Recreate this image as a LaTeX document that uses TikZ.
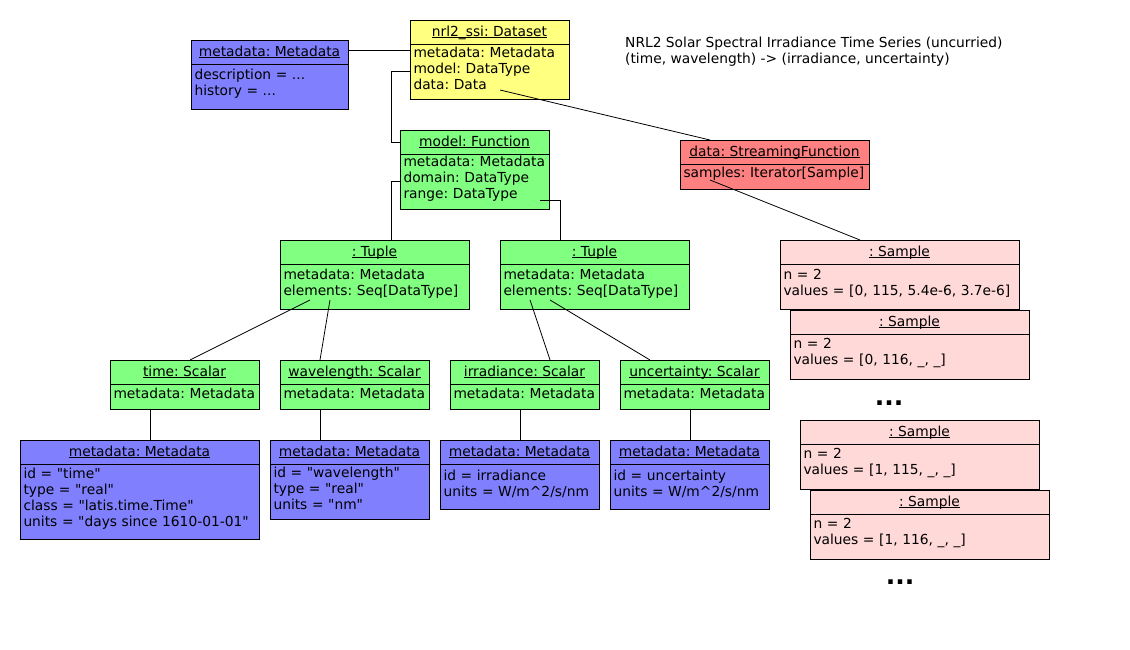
\documentclass[tikz,border=0pt]{standalone}
\usepackage{fontspec}
\setmainfont{DejaVu Sans}[Ligatures=TeXOff]
\usetikzlibrary{positioning}

\definecolor{dsyellow}{RGB}{255,255,128}
\definecolor{mdblue}{RGB}{128,128,255}
\definecolor{fngreen}{RGB}{128,255,128}
\definecolor{sfred}{RGB}{255,128,128}
\definecolor{smpink}{RGB}{255,216,216}

% underlined object name, descenders not pushing the rule down
\newcommand{\objname}[1]{\underline{\raisebox{0pt}[\height][0pt]{#1}}}
\hyphenpenalty=10000
\exhyphenpenalty=10000
\frenchspacing

\begin{document}
\begin{tikzpicture}[x=1pt, y=-1pt,
  every node/.style={font=\fontsize{13.8}{16}\selectfont},
  head/.style={rectangle, draw, line width=0.9pt, anchor=north west, minimum height=24pt, inner sep=0pt, outer sep=0pt},
  body/.style={rectangle, draw, line width=0.9pt, anchor=north west, align=left, inner xsep=3.5pt, inner ysep=0pt, outer sep=0pt,
    execute at end node={\endgraf\vspace{6pt}}},
  link/.style={line width=0.8pt},
  more/.style={font=\fontsize{25}{25}\selectfont\bfseries, inner sep=0pt},
  caption/.style={anchor=west, align=left, inner sep=0pt},
]
\useasboundingbox (0,0) rectangle (1130,650);

% === DATASET ===
\node[head, fill=mdblue, minimum width=157pt] (meta0h) at (191,40) {\objname{metadata: Metadata}};
\node[body, fill=mdblue, text width=150pt, minimum height=45pt] (meta0) at (meta0h.south west) {description = ...\\history = ...};

\node[head, fill=dsyellow, minimum width=159pt] (dsh) at (410,20) {\objname{nrl2\_ssi: Dataset}};
\node[body, fill=dsyellow, text width=152pt, minimum height=55pt] (ds) at (dsh.south west) {metadata: Metadata\\model: DataType\\data: Data};

\node[caption] (title) at (625,51.5) {NRL2 Solar Spectral Irradiance Time Series (uncurried)\\(time, wavelength) -> (irradiance, uncertainty)};

% === MODEL ===
\node[head, fill=fngreen, minimum width=149pt] (fnh) at (400,130) {\objname{model: Function}};
\node[body, fill=fngreen, text width=142pt, minimum height=55pt] (fn) at (fnh.south west) {metadata: Metadata\\domain: DataType\\range: DataType};

\node[head, fill=fngreen, minimum width=189pt] (tp1h) at (280,240) {\objname{: Tuple}};
\node[body, fill=fngreen, text width=182pt, minimum height=45pt] (tp1) at (tp1h.south west) {metadata: Metadata\\elements: Seq[DataType]};
\node[head, fill=fngreen, minimum width=189pt] (tp2h) at (500,240) {\objname{: Tuple}};
\node[body, fill=fngreen, text width=182pt, minimum height=45pt] (tp2) at (tp2h.south west) {metadata: Metadata\\elements: Seq[DataType]};

% scalars
\node[head, fill=fngreen, minimum width=149pt] (timeh) at (110,360) {\objname{time: Scalar}};
\node[body, fill=fngreen, text width=142pt, minimum height=25pt] (time) at (timeh.south west) {metadata: Metadata};
\node[head, fill=fngreen, minimum width=149pt] (wlh) at (280,360) {\objname{wavelength: Scalar}};
\node[body, fill=fngreen, text width=142pt, minimum height=25pt] (wl) at (wlh.south west) {metadata: Metadata};
\node[head, fill=fngreen, minimum width=149pt] (irrh) at (450,360) {\objname{irradiance: Scalar}};
\node[body, fill=fngreen, text width=142pt, minimum height=25pt] (irr) at (irrh.south west) {metadata: Metadata};
\node[head, fill=fngreen, minimum width=149pt] (unch) at (620,360) {\objname{uncertainty: Scalar}};
\node[body, fill=fngreen, text width=142pt, minimum height=25pt] (unc) at (unch.south west) {metadata: Metadata};

% scalar metadata
\node[head, fill=mdblue, minimum width=239pt] (mth) at (20,440) {\objname{metadata: Metadata}};
\node[body, fill=mdblue, text width=232pt, minimum height=75pt] (mt) at (mth.south west) {id = "time"\\type = "real"\\class = "latis.time.Time"\\units = "days since 1610-01-01"};
\node[head, fill=mdblue, minimum width=159pt] (mwh) at (270,440) {\objname{metadata: Metadata}};
\node[body, fill=mdblue, text width=152pt, minimum height=55pt] (mw) at (mwh.south west) {id = "wavelength"\\type = "real"\\units = "nm"};
\node[head, fill=mdblue, minimum width=159pt] (mih) at (440,440) {\objname{metadata: Metadata}};
\node[body, fill=mdblue, text width=152pt, minimum height=45pt] (mi) at (mih.south west) {id = irradiance\\units = W/m\textasciicircum 2/s/nm};
\node[head, fill=mdblue, minimum width=159pt] (muh) at (610,440) {\objname{metadata: Metadata}};
\node[body, fill=mdblue, text width=152pt, minimum height=45pt] (mu) at (muh.south west) {id = uncertainty\\units = W/m\textasciicircum 2/s/nm};

% === DATA ===
\node[head, fill=sfred, minimum width=189pt] (sfh) at (680,140) {\objname{data: StreamingFunction}};
\node[body, fill=sfred, text width=182pt, minimum height=25pt] (sf) at (sfh.south west) {samples: Iterator[Sample]};

\node[head, fill=smpink, minimum width=239pt] (s1h) at (780,240) {\objname{: Sample}};
\node[body, fill=smpink, text width=232pt, minimum height=45pt] (s1) at (s1h.south west) {n = 2\\values = [0, 115, 5.4e-6, 3.7e-6]};
\node[head, fill=smpink, minimum width=239pt] (s2h) at (790,310) {\objname{: Sample}};
\node[body, fill=smpink, text width=232pt, minimum height=45pt] (s2) at (s2h.south west) {n = 2\\values = [0, 116, \_, \_]};
\node[more] (more1) at (889,403) {...};
\node[head, fill=smpink, minimum width=239pt] (s3h) at (800,420) {\objname{: Sample}};
\node[body, fill=smpink, text width=232pt, minimum height=45pt] (s3) at (s3h.south west) {n = 2\\values = [1, 115, \_, \_]};
\node[head, fill=smpink, minimum width=239pt] (s4h) at (810,490) {\objname{: Sample}};
\node[body, fill=smpink, text width=232pt, minimum height=45pt] (s4) at (s4h.south west) {n = 2\\values = [1, 116, \_, \_]};
\node[more] (more2) at (900,582) {...};

% connector ends inside the boxes
\coordinate (dsdata) at (500,90);
\coordinate (fnrange) at (540,200);
\coordinate (sfsamples) at (710,180);
\coordinate (tp1a) at (310,300);
\coordinate (tp1b) at (330,300);
\coordinate (tp2a) at (530,300);
\coordinate (tp2b) at (550,300);

\draw[link] ([yshift=2pt]meta0h.east) -- ([yshift=-6pt]dsh.south west);
\draw[link] (ds.west) -- ++(-19,0) |- (fnh.west);
\draw[link] (dsdata) -- ([xshift=30pt]sfh.north west);
\draw[link] (sfsamples) -- ([xshift=80pt]s1h.north west);
\draw[link] (fn.west) -| ([xshift=111pt]tp1h.north west);
\draw[link] (fnrange) -| ([xshift=60pt]tp2h.north west);
\draw[link] (tp1a) -- ([xshift=80pt]timeh.north west);
\draw[link] (tp1b) -- ([xshift=40pt]wlh.north west);
\draw[link] (tp2a) -- ([xshift=100pt]irrh.north west);
\draw[link] (tp2b) -- ([xshift=30pt]unch.north west);
\draw[link] ([xshift=40pt]time.south west) -- ([xshift=130pt]mth.north west);
\draw[link] ([xshift=40pt]wl.south west) -- ([xshift=50pt]mwh.north west);
\draw[link] ([xshift=70pt]irr.south west) -- ([xshift=80pt]mih.north west);
\draw[link] ([xshift=70pt]unc.south west) -- ([xshift=80pt]muh.north west);
\end{tikzpicture}
\end{document}
